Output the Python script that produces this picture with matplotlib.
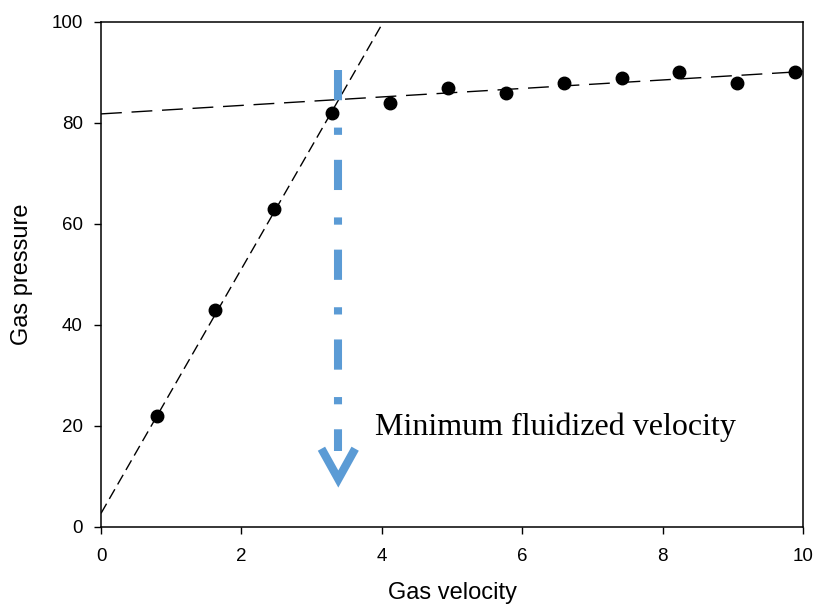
import matplotlib
matplotlib.use("Agg")
from matplotlib import pyplot as plt

# measured points
velocity = [0.80, 1.62, 2.46, 3.29, 4.12, 4.94, 5.77, 6.60, 7.42, 8.23, 9.06, 9.89]
pressure = [22, 43, 63, 82, 84, 87, 86, 88, 89, 90, 88, 90]

# fitted lines (intercept, slope)
fixed_bed = (2.7, 24.2)
fluid_bed = (81.8, 0.84)

# minimum fluidized velocity marker
umf = 3.38
arrow_top = 90.5
arrow_tip = 9.5
label_text = "Minimum fluidized velocity"

BLUE = "#5B9BD5"

fig = plt.figure(figsize=(8.16, 6.06), dpi=100)
ax = fig.add_axes([0.1238, 0.1304, 0.8603, 0.8333])

# fixed bed line
x0 = [0, (100 - fixed_bed[0]) / fixed_bed[1]]
ax.plot(x0, [fixed_bed[0] + fixed_bed[1] * v for v in x0], color="black",
        lw=1.0, dashes=(8, 4))
# fluidized line
x1 = [0, 10]
ax.plot(x1, [fluid_bed[0] + fluid_bed[1] * v for v in x1], color="black",
        lw=1.0, dashes=(15, 7))

ax.plot(velocity, pressure, "o", color="black", ms=9, zorder=5)

# blue dash-dot arrow
ax.plot([umf, umf], [arrow_top, arrow_tip + 5.5], color=BLUE, lw=5.8,
        dashes=(3.75, 3.4, 0.9, 3.1), solid_capstyle="butt",
        dash_capstyle="butt", zorder=4)
ax.plot([umf - 0.24, umf, umf + 0.24], [arrow_tip + 6.0, arrow_tip, arrow_tip + 6.0],
        color=BLUE, lw=6, solid_joinstyle="miter", solid_capstyle="butt", zorder=4)

ax.text(3.9, 18.2, label_text, fontsize=23, family="Liberation Serif",
        va="baseline", ha="left")

ax.set_xlim(0, 10)
ax.set_ylim(0, 100)
ax.set_xticks(range(0, 11, 2))
ax.set_yticks(range(0, 101, 20))

for s in ax.spines.values():
    s.set_linewidth(1.1)
ax.tick_params(axis="both", direction="out", length=5, width=1.0,
               labelsize=13.5, labelfontfamily="Liberation Sans")
ax.tick_params(axis="x", pad=10)
ax.tick_params(axis="y", pad=8)

ax.set_xlabel("Gas velocity", fontsize=17, family="Liberation Sans")
ax.set_ylabel("Gas pressure", fontsize=17, family="Liberation Sans")
ax.xaxis.set_label_coords(0.5, -0.108)
ax.yaxis.set_label_coords(-0.097, 0.5)

fig.savefig("out.png", dpi=100)
